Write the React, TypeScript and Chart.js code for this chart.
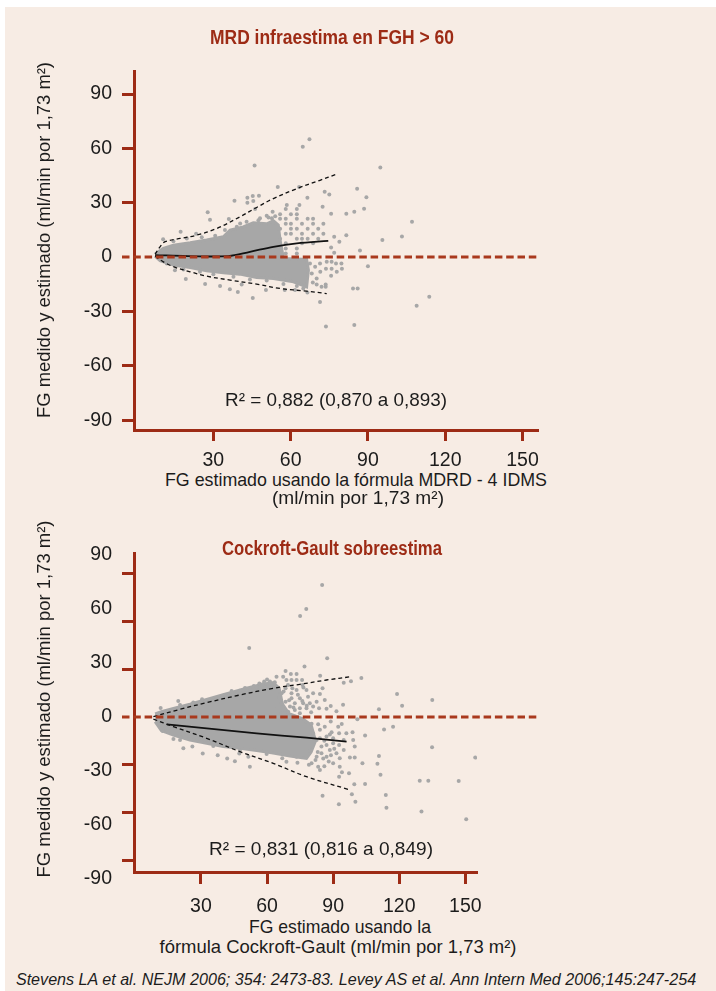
import React, { useEffect, useRef } from "react";
import { Chart, registerables } from "chart.js";

Chart.register(...registerables);

const RED = "#9d2b15";
const ZERO_RED = "#a9391d";
const GRAY = "#a7a7a7";
const BG = "#f7ece4";
const INK = "#1c1c1c";
const SANS = '"Liberation Sans", "DejaVu Sans", sans-serif';

// ---------- shared ticks ----------
const xTicks = [30, 60, 90, 120, 150];
const yTicks = [-90, -60, -30, 0, 30, 60, 90];

// ---------- top chart (MDRD) ----------
const topPointsX = [
  67.3, 64.7, 46.0, 94.8, 85.8, 89.4, 88.5, 84.7, 81.6, 107.1, 103.2, 95.6, 86.9, 90.0, 84.2, 86.0, 108.9, 113.8,
  73.7, 84.7, 71.4, 45.3, 55.0, 63.3, 66.5, 73.2, 75.0, 72.4, 75.7, 38.2, 43.2, 45.3, 47.7, 43.2, 45.5, 46.2,
  27.8, 28.7, 36.0, 17.3, 23.3, 10.5, 81.6, 78.9, 76.9, 75.7, 76.9, 74.0, 75.9, 77.6, 79.7, 73.7, 75.9, 79.9,
  75.7, 77.9, 71.5, 68.6, 70.1, 72.0, 73.6, 73.6, 66.5, 57.7, 61.7, 50.4, 41.0, 36.4, 39.5, 32.6, 26.8, 19.3, 15.1,
  14.5, 19.7, 25.5, 30.7, 34.5, 39.1, 40.4, 42.9, 47.5, 52.7, 54.0, 50.7,
  11.9, 18.4, 24.8, 30.0, 37.8, 44.2, 50.7, 57.2, 62.4, 64.9,
  67.5, 69.5, 68.2, 70.1, 71.4, 53.0, 51.4, 48.1,
  58.5, 63.4,
  58.1, 62.4,
  55.9, 60.1, 62.4,
  55.9, 58.1, 62.4, 66.6, 68.7,
  58.1, 60.1, 64.4, 68.7, 72.7,
  55.9, 60.1, 62.4, 66.6, 70.7,
  58.1, 60.1, 64.4, 68.7, 72.7,
  55.9, 62.4, 64.4, 66.6, 70.7,
  58.1, 64.4, 68.7,
  58.1, 62.4,
  53.8, 58.1, 62.4,
];
const topPointsY = [
  65.0, 60.9, 50.6, 49.5, 37.7, 33.0, 26.7, 25.0, 23.9, 19.5, 11.4, 9.4, 3.7, -5.0, -17.3, -17.3, -26.9, -21.9,
  -38.3, -37.5, -24.7, -22.5, 38.7, 38.7, 32.8, 36.1, 34.6, 27.8, 23.9, 31.1, 32.8, 33.7, 33.9, 30.0, 30.9, 26.5,
  24.7, 20.6, 21.0, 14.0, 12.9, 9.9, 12.0, 8.5, 11.2, 5.3, 2.4, -2.6, -2.6, -3.5, -3.5, -6.4, -6.4, -6.4,
  -10.3, -8.1, -8.1, -14.0, -15.1, -16.4, -16.4, -15.1, -19.5, -18.2, -18.2, -18.2, -15.1, -17.8, -19.3, -16.0, -14.9, -12.1, -7.2,
  8.8, 10.3, 11.0, 11.8, 14.9, 16.7, 18.6, 19.5, 20.4, 21.4, 22.6, 22.8,
  -3.5, -6.8, -8.1, -9.4, -10.9, -12.3, -12.9, -14.9, -16.0, -17.3,
  -3.5, -5.3, -9.0, -11.8, -3.5, 25.0, 21.9, 21.4,
  28.7, 28.7,
  26.5, 26.5,
  23.7, 23.7, 23.7,
  21.2, 21.2, 21.2, 21.2, 21.2,
  18.4, 18.4, 18.4, 18.4, 18.4,
  15.6, 15.6, 15.6, 15.6, 15.6,
  12.9, 12.9, 12.9, 12.9, 12.9,
  10.1, 10.1, 10.1, 10.1, 10.1,
  7.6, 7.6, 7.6,
  4.8, 4.8,
  2.0, 2.0, 2.0,
];
// dense core of the cloud (outline)
const topCoreX = [7.4, 10.6, 14.5, 21.0, 27.4, 33.9, 36.5, 41.6, 45.5, 50.7, 53.3, 55.2, 55.9, 57.2, 66.2, 66.9, 66.2, 61.1, 53.3, 46.8, 40.3, 33.9, 27.4, 21.0, 14.5, 9.3, 7.4];
const topCoreY = [1.7, 4.8, 6.6, 7.9, 9.4, 11.2, 14.9, 16.7, 18.9, 18.4, 20.0, 17.7, 9.4, -0.7, -1.3, -7.2, -16.4, -13.6, -11.8, -11.2, -9.4, -8.7, -7.5, -5.7, -4.4, -2.0, 0.5];
const topMeanX = [7.4, 20.0, 35.8, 44.2, 53.3, 62.4, 74.6];
const topMeanY = [1.1, 0.6, 0.55, 2.9, 5.7, 7.6, 9.0];
const topUpperX = [7.4, 9.3, 11.3, 17.1, 23.5, 31.3, 40.4, 46.8, 53.3, 62.4, 71.4, 77.9];
const topUpperY = [1.6, 5.7, 8.5, 10.3, 12.1, 15.8, 22.3, 27.4, 32.3, 37.8, 42.4, 45.8];
const topLowerX = [7.4, 10.6, 14.5, 21.0, 27.4, 36.5, 46.8, 55.9, 66.2, 74.0];
const topLowerY = [0.5, -2.6, -5.3, -8.1, -10.5, -12.7, -14.9, -17.3, -18.8, -20.1];

// ---------- bottom chart (Cockroft-Gault) ----------
const botPointsX = [
  85.0, 77.8, 75.0, 51.9, 87.3, 77.0, 84.1, 102.8, 94.8, 98.1, 19.7, 30.5, 26.5, 11.7, 17.2, 43.9, 41.3, 50.0,
  58.7, 64.3, 67.3, 68.4, 70.8, 73.4, 68.8, 71.1, 73.4, 75.9, 76.1, 77.9, 80.9, 84.0, 85.2, 82.5, 86.2, 88.9,
  94.5, 91.5, 87.0, 83.6, 77.9, 74.9, 72.6, 70.4, 68.4, 74.9, 71.1, 68.4, 66.6, 69.6, 72.6, 74.9, 76.4, 79.4,
  66.6, 66.6, 71.1, 73.4, 78.6, 80.9,
  83.2, 88.9, 93.9, 101.0, 89.3, 92.7, 98.8, 104.5, 94.8, 99.1, 99.8, 94.8, 92.7, 88.5, 84.7, 82.5, 87.0, 90.0,
  93.0, 97.6, 99.8, 103.3, 93.0, 97.2, 92.7, 84.0, 85.2, 92.6, 98.5, 100.1, 99.6, 104.5, 110.1, 110.8, 111.5, 113.9,
  114.2, 113.1, 117.2, 110.8, 121.3, 119.0, 135.0, 134.9, 129.3, 133.2, 147.0, 130.1, 150.4, 154.5, 94.0, 86.2,
  80.9, 84.0, 87.0, 90.0, 87.0, 90.0, 84.7, 82.5, 79.4, 91.5, 96.0, 80.2, 92.3,
  12.6, 14.9, 17.5, 22.0, 26.1, 30.8, 37.6, 41.9, 45.4, 47.4, 52.2, 51.5, 68.8, 73.8, 80.2, 83.2, 66.9,
  20.5, 37.1, 47.7, 55.3, 61.3, 20.5, 35.6, 47.7, 59.8, 73.4,
  56.5, 60.0, 63.5, 54.0, 58.0,
  80.5, 83.0, 85.5, 88.0, 86.0, 89.0, 82.0, 79.0, 84.0, 86.0, 88.5, 90.5,
  65.5, 67.5, 69.5, 71.5, 74.0, 76.0, 78.0, 80.0, 70.0, 72.0, 76.5, 68.0, 64.5,
];
const botPointsY = [
  82.8, 67.8, 63.4, 43.3, 36.8, 31.6, 25.9, 24.5, 21.5, 22.4, 10.0, 11.1, 9.0, 5.6, 4.4, 16.3, 13.2, 18.2,
  22.2, 25.3, 25.3, 28.9, 27.0, 27.0, 23.2, 23.2, 23.2, 23.2, 20.1, 16.9, 14.9, 14.4, 18.0, 9.6, 10.7, 6.9,
  7.7, 3.6, 5.2, 5.4, 5.4, 5.4, 8.6, 6.5, 9.6, 11.7, 14.9, 18.0, 2.3, 3.3, 4.4, 2.3, 8.6, 8.6,
  8.6, 14.9, 11.7, 16.9, 12.7, 6.5,
  -4.6, -2.9, -4.4, -1.5, -9.6, -10.3, -9.6, -11.7, -14.4, -14.4, -18.6, -20.7, -17.6, -20.7, -22.8, -24.9, -24.9, -29.1,
  -25.9, -25.5, -25.5, -29.1, -31.2, -35.3, -37.5, -33.3, -49.4, -54.8, -48.5, -53.2, -42.2, -42.0, -29.3, -24.5, -36.2, -49.0,
  -56.9, -7.9, -6.1, 4.8, 7.1, 14.4, 10.7, -19.0, -40.0, -40.0, -40.2, -59.4, -64.2, -25.5, -34.7, -6.1,
  -10.3, -13.4, -12.3, -13.4, -17.6, -16.5, -18.6, -14.4, -20.7, -22.8, -10.3, -4.2, -6.1,
  -8.8, -8.8, -13.8, -19.7, -18.6, -23.0, -24.1, -26.1, -27.8, -23.0, -31.2, -24.9, -28.1, -28.7, -29.1, -31.2, -25.9,
  7.5, 11.7, 16.5, 19.0, 22.2, -14.4, -18.2, -20.7, -23.2, -24.9,
  21.0, 23.5, 21.8, 19.5, 20.5,
  -18.0, -22.0, -26.0, -28.0, -31.0, -24.0, -27.0, -30.0, -8.0, -15.0, -11.0, -20.0,
  12.0, 16.0, 20.0, 18.0, 14.0, 10.0, 7.0, 3.0, 10.5, 6.0, 18.5, 4.5, 5.0,
];
const botCoreX = [9.2, 12.0, 17.5, 25.0, 32.6, 40.1, 50.7, 58.0, 62.8, 65.5, 67.0, 70.0, 76.0, 80.0, 82.0, 80.0, 77.9, 70.4, 62.8, 55.3, 47.7, 40.1, 32.6, 25.0, 17.5, 12.0, 9.2];
const botCoreY = [1.9, 3.3, 5.4, 8.0, 11.0, 14.0, 18.0, 20.5, 21.5, 18.0, 8.0, 2.0, -1.0, -5.0, -15.0, -22.0, -26.0, -24.5, -22.6, -21.0, -19.7, -18.6, -16.5, -14.5, -11.3, -8.5, -3.0];
const botMeanX = [14.5, 32.6, 55.3, 77.9, 96.1];
const botMeanY = [-4.6, -7.1, -10.3, -13.0, -15.5];
const botUpperX = [8.4, 20.5, 32.6, 47.7, 62.8, 74.9, 87.0, 98.3];
const botUpperY = [0.2, 4.8, 9.0, 13.8, 18.0, 20.5, 23.2, 25.3];
const botLowerX = [8.4, 17.5, 32.6, 47.7, 62.8, 77.9, 96.8];
const botLowerY = [-1.3, -6.1, -13.4, -21.8, -29.1, -37.5, -45.4];

const pts = (xs: number[], ys: number[]) => xs.map((x, i) => ({ x, y: ys[i] }));

type Spec = {
  px: number[]; py: number[];
  cx: number[]; cy: number[];
  mx: number[]; my: number[];
  ux: number[]; uy: number[];
  lx: number[]; ly: number[];
  xMin: number; xMax: number; yMin: number; yMax: number;
  zeroEnd: number;
  padTop: number; padRight: number;
  xTickPad: number; xTickLen: number;
  labelAxis?: { min: number; max: number };
};

const TICK_FONT = { family: SANS, size: 19.5 };

function makeConfig(s: Spec): any {
  const zeroLine = {
    id: "zeroLine",
    afterDatasetsDraw(chart: any) {
      const { ctx, chartArea, scales } = chart;
      const py = scales.y.getPixelForValue(0);
      const x1 = scales.x.getPixelForValue(s.zeroEnd);
      ctx.save();
      ctx.strokeStyle = ZERO_RED;
      ctx.lineWidth = 3;
      ctx.setLineDash([7.5, 3.8]);
      ctx.beginPath();
      ctx.moveTo(chartArea.left - 12, py);
      ctx.lineTo(x1, py);
      ctx.stroke();
      ctx.restore();
    },
  };
  const setTicks = (vals: number[]) => (scale: any) => {
    scale.ticks = vals.map((v) => ({ value: v }));
  };
  const scales: any = {
    x: {
      type: "linear",
      min: s.xMin,
      max: s.xMax,
      afterBuildTicks: setTicks(xTicks),
      afterFit: (sc: any) => { sc.height = 40; },
      border: { display: true, color: RED, width: 3 },
      grid: { display: true, drawOnChartArea: false, drawTicks: true, tickLength: s.xTickLen, tickColor: RED, tickWidth: 3 },
      ticks: { color: INK, font: TICK_FONT, padding: s.xTickPad, maxRotation: 0, autoSkip: false, callback: (v: any) => String(v) },
    },
    y: {
      type: "linear",
      position: "left",
      weight: 0,
      min: s.yMin,
      max: s.yMax,
      afterBuildTicks: setTicks(yTicks),
      afterFit: (sc: any) => { sc.width = s.labelAxis ? 12 : 134; },
      border: { display: true, color: RED, width: 3 },
      grid: {
        display: true, drawOnChartArea: false, drawTicks: true, tickLength: 12, tickWidth: 3,
        tickColor: (c: any) => (c.tick && c.tick.value === 0 ? "rgba(0,0,0,0)" : RED),
      },
      ticks: { display: !s.labelAxis, color: INK, font: TICK_FONT, padding: 10, autoSkip: false, callback: (v: any) => String(v) },
    },
  };
  if (s.labelAxis) {
    scales.yl = {
      type: "linear",
      position: "left",
      weight: 1,
      min: s.labelAxis.min,
      max: s.labelAxis.max,
      afterBuildTicks: setTicks(yTicks),
      afterFit: (sc: any) => { sc.width = 122; },
      border: { display: false },
      grid: { display: false, drawTicks: false, drawOnChartArea: false },
      ticks: { color: INK, font: TICK_FONT, padding: 10, autoSkip: false, callback: (v: any) => String(v) },
    };
  }
  return {
    type: "line",
    data: {
      datasets: [
        { label: "media", data: pts(s.mx, s.my), borderColor: "#111", borderWidth: 1.8, pointRadius: 0, fill: false, tension: 0.35, order: 0 },
        { label: "límite superior", data: pts(s.ux, s.uy), borderColor: "#111", borderWidth: 1.3, borderDash: [4, 3], pointRadius: 0, fill: false, tension: 0.35, order: 0 },
        { label: "límite inferior", data: pts(s.lx, s.ly), borderColor: "#111", borderWidth: 1.3, borderDash: [4, 3], pointRadius: 0, fill: false, tension: 0.35, order: 0 },
        { label: "pacientes", data: pts(s.px, s.py), showLine: false, pointRadius: 2.0, pointBackgroundColor: GRAY, pointBorderWidth: 0, order: 1 },
        { label: "núcleo", data: pts(s.cx, s.cy), borderColor: GRAY, borderWidth: 3, backgroundColor: GRAY, fill: "shape", pointRadius: 0, tension: 0, order: 2 },
      ],
    },
    options: {
      animation: false,
      responsive: false,
      devicePixelRatio: 1,
      events: [],
      layout: { padding: { left: 0, top: s.padTop, right: s.padRight, bottom: 0 } },
      plugins: { legend: { display: false }, tooltip: { enabled: false }, title: { display: false } },
      scales,
    },
    plugins: [zeroLine],
  };
}

function ChartCanvas({ spec, top, height }: { spec: Spec; top: number; height: number }) {
  const ref = useRef<HTMLCanvasElement>(null);
  useEffect(() => {
    const chart = new Chart(ref.current as HTMLCanvasElement, makeConfig(spec));
    return () => chart.destroy();
  }, []);
  return (
    <canvas
      ref={ref}
      width={716}
      height={height}
      style={{ position: "absolute", left: 0, top, width: 716, height }}
    />
  );
}

let measureCtx: CanvasRenderingContext2D | null = null;
function measure(text: string, font: string): number {
  if (!measureCtx) measureCtx = document.createElement("canvas").getContext("2d");
  if (!measureCtx) return 0;
  measureCtx.font = font;
  return measureCtx.measureText(text).width;
}

// text centred at (x, y), horizontally fitted to width w (along the text direction)
function Txt({ x, y, w, size, bold, italic, color, rotate, children }: any) {
  const text = String(children);
  const font = `${italic ? "italic " : ""}${bold ? "700 " : ""}${size}px ${SANS}`;
  const natural = measure(text, font);
  const k = natural > 0 && w ? w / natural : 1;
  return (
    <div
      style={{
        position: "absolute",
        left: x,
        top: y,
        transform: `translate(-50%, -50%)${rotate ? " rotate(-90deg)" : ""} scaleX(${k})`,
        whiteSpace: "nowrap",
        lineHeight: 1,
        color: color || INK,
        fontFamily: SANS,
        fontSize: size,
        fontWeight: bold ? 700 : 400,
        fontStyle: italic ? "italic" : "normal",
      }}
    >
      {text}
    </div>
  );
}

const topSpec: Spec = {
  px: topPointsX, py: topPointsY, cx: topCoreX, cy: topCoreY, mx: topMeanX, my: topMeanY,
  ux: topUpperX, uy: topUpperY, lx: topLowerX, ly: topLowerY,
  xMin: -0.8, xMax: 156, yMin: -95.4, yMax: 102.7, zeroEnd: 156,
  padTop: 71, padRight: 178, xTickPad: 8, xTickLen: 11,
};
const botSpec: Spec = {
  px: botPointsX, py: botPointsY, cx: botCoreX, cy: botCoreY, mx: botMeanX, my: botMeanY,
  ux: botUpperX, uy: botUpperY, lx: botLowerX, ly: botLowerY,
  xMin: -0.4, xMax: 155.3, yMin: -97.3, yMax: 102.9, zeroEnd: 182.8,
  padTop: 53, padRight: 239, xTickPad: 11, xTickLen: 12,
  labelAxis: { min: -86.4, max: 90.8 },
};

export default function App() {
  return (
    <div style={{ position: "fixed", left: 0, top: 0, width: 716, height: 991, background: "#ffffff", overflow: "hidden" }}>
      <div style={{ position: "absolute", left: 5, top: 7, width: 711, height: 984, background: BG }} />
      <ChartCanvas spec={topSpec} top={0} height={470} />
      <ChartCanvas spec={botSpec} top={500} height={412} />

      <Txt x={332} y={37} w={244} size={20} bold color={RED}>MRD infraestima en FGH &gt; 60</Txt>
      <Txt x={44} y={240} w={356} size={18.4} rotate>FG medido y estimado (ml/min por 1,73 m²)</Txt>
      <Txt x={336} y={400} w={222} size={18.5}>R² = 0,882 (0,870 a 0,893)</Txt>
      <Txt x={356} y={481} w={382} size={17.8}>FG estimado usando la fórmula MDRD - 4 IDMS</Txt>
      <Txt x={357.5} y={499} w={172} size={17.8}>(ml/min por 1,73 m²)</Txt>

      <Txt x={332} y={548} w={220} size={20} bold color={RED}>Cockroft-Gault sobreestima</Txt>
      <Txt x={44} y={698.5} w={357} size={18.4} rotate>FG medido y estimado (ml/min por 1,73 m²)</Txt>
      <Txt x={321} y={849} w={224} size={18.5}>R² = 0,831 (0,816 a 0,849)</Txt>
      <Txt x={339.5} y={928} w={182} size={17.8}>FG estimado usando la</Txt>
      <Txt x={338} y={948} w={357} size={17.8}>fórmula Cockroft-Gault (ml/min por 1,73 m²)</Txt>

      <Txt x={356} y={979} w={682} size={16.5} italic>
        Stevens LA et al. NEJM 2006; 354: 2473-83. Levey AS et al. Ann Intern Med 2006;145:247-254
      </Txt>
    </div>
  );
}
